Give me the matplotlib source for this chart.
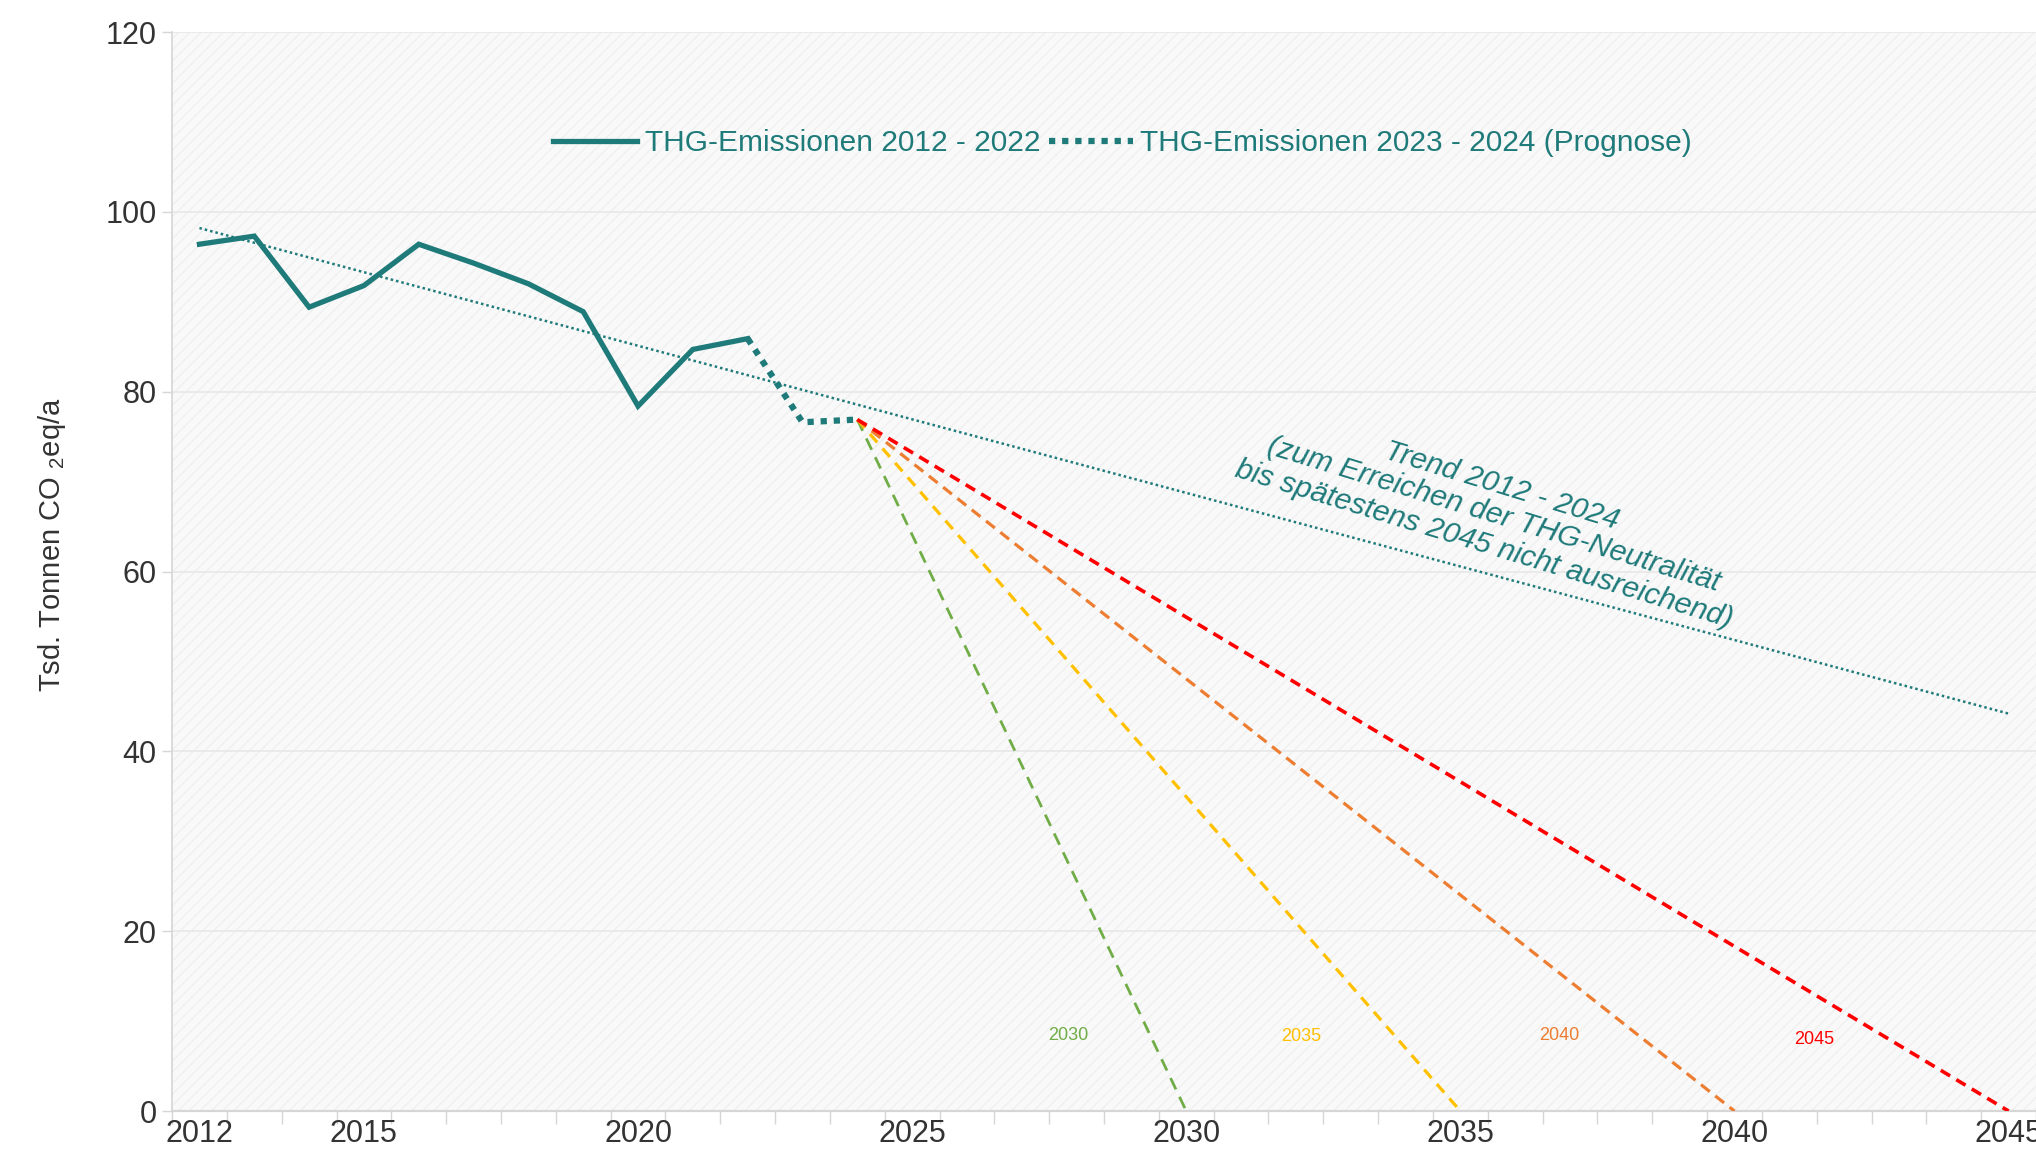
import matplotlib
matplotlib.use("Agg")
import matplotlib.pyplot as plt
from matplotlib.patches import Rectangle
import numpy as np

# ---------------- data ----------------
years_hist = [2012, 2013, 2014, 2015, 2016, 2017, 2018, 2019, 2020, 2021, 2022]
emis_hist = [96.4, 97.3, 89.4, 91.8, 96.4, 94.3, 92.0, 88.9, 78.4, 84.7, 85.9]
years_prog = [2022, 2023, 2024]
emis_prog = [85.9, 76.6, 76.9]
trend_years = [2012, 2045]
trend_values = [98.2, 44.2]
target_years = [2030, 2035, 2040, 2045]
target_colors = ["#70AD47", "#FFC000", "#ED7D31", "#FF0000"]
target_label_pos = [(2027.85, 8.4), (2032.1, 8.3), (2036.8, 8.4), (2041.45, 8.0)]
xtick_labels = [2012, 2015, 2020, 2025, 2030, 2035, 2040, 2045]
yticks = [0, 20, 40, 60, 80, 100, 120]

legend_labels = ["THG-Emissionen 2012 - 2022", "THG-Emissionen 2023 - 2024 (Prognose)"]
trend_text = "Trend 2012 - 2024\n(zum Erreichen der THG-Neutralität\nbis spätestens 2045 nicht ausreichend)"
ylabel = "Tsd. Tonnen CO $_{2}$eq/a"

TEAL = "#1F7A7A"
GRID = "#E8E8E8"
AXC = "#D6D6D6"
TXT = "#333333"

plt.rcParams["font.family"] = ["Liberation Sans", "DejaVu Sans"]
plt.rcParams["mathtext.fontset"] = "custom"
plt.rcParams["mathtext.rm"] = "Liberation Sans"
plt.rcParams["hatch.linewidth"] = 0.9

NARROW = ["Liberation Sans Narrow", "Liberation Sans", "DejaVu Sans"]

fig = plt.figure(figsize=(20.36, 11.60), dpi=100)
ax = fig.add_axes([0.0845, 0.0422, 0.9155, 0.9302])

ax.set_xlim(2011.5, 2045.5)
ax.set_ylim(0, 120)

# background with faint diagonal hatching
ax.set_facecolor("#F9F9F9")
ax.add_patch(Rectangle((0, 0), 1, 1, transform=ax.transAxes, facecolor="#F9F9F9",
                       edgecolor="#EFEFEF", hatch="///", linewidth=0, zorder=0))

# grid
for y in yticks[1:]:
    ax.axhline(y, color=GRID, lw=1.2, zorder=1)

# spines
for s in ["top", "right"]:
    ax.spines[s].set_visible(False)
ax.spines["left"].set_color(AXC)
ax.spines["bottom"].set_color(AXC)
ax.spines["left"].set_linewidth(1.2)
ax.spines["bottom"].set_linewidth(1.6)

# ticks: boundaries as major ticks, labels on minor ticks
ax.set_xticks(np.arange(2011.5, 2046.0, 1.0))
ax.set_xticklabels([])
ax.tick_params(axis="x", which="major", length=9, width=1.0, color=AXC)
ax.set_xticks(xtick_labels, minor=True)
ax.set_xticklabels([str(v) for v in xtick_labels], minor=True, fontsize=22,
                   color=TXT, family=NARROW)
ax.tick_params(axis="x", which="minor", length=0, pad=6)

ax.set_yticks(yticks)
ax.set_yticklabels([str(v) for v in yticks], fontsize=22, color=TXT, family=NARROW)
ax.tick_params(axis="y", length=7, width=1.0, color=AXC, pad=4)

ax.set_ylabel(ylabel, fontsize=21, color=TXT)
ax.yaxis.set_label_coords(-0.056, 0.5245)

# trend line
ax.plot(trend_years, trend_values, color=TEAL, lw=1.8, ls=(0, (1, 1.2)), zorder=3)

# target lines
start_year = years_prog[-1]
start_val = emis_prog[-1]
dash_styles = [(0, (4.5, 3.0)), (0, (3.5, 2.5)), (0, (3.5, 2.2)), (0, (3.0, 2.0))]
widths = [2.0, 2.3, 2.3, 2.6]
for ty, c, ds, w in zip(target_years, target_colors, dash_styles, widths):
    ax.plot([start_year, ty], [start_val, 0], color=c, lw=w, ls=ds, zorder=4)

for (lx, ly), ty, c in zip(target_label_pos, target_years, target_colors):
    ax.text(lx, ly, str(ty), color=c, fontsize=13, family=NARROW, ha="center", va="center")

# emissions
l1, = ax.plot(years_hist, emis_hist, color=TEAL, lw=3.8, zorder=5, solid_joinstyle="miter")
l2, = ax.plot(years_prog, emis_prog, color=TEAL, lw=4.5, ls=(0, (1, 1.1)),
              dash_capstyle="butt", zorder=5)

leg = ax.legend([l1, l2], legend_labels, loc="center", bbox_to_anchor=(0.51, 0.897),
                ncol=2, frameon=False, handlelength=2.8, handletextpad=0.25,
                columnspacing=0.3, prop={"family": NARROW, "size": 21.5})
for t in leg.get_texts():
    t.set_color(TEAL)

ax.text(2035.6, 66.3, trend_text, color=TEAL, fontsize=21.5, style="italic",
        rotation=-17, rotation_mode="anchor", ha="center", va="center",
        linespacing=1.12, zorder=6)

fig.savefig("out.png", dpi=100, facecolor="white")
